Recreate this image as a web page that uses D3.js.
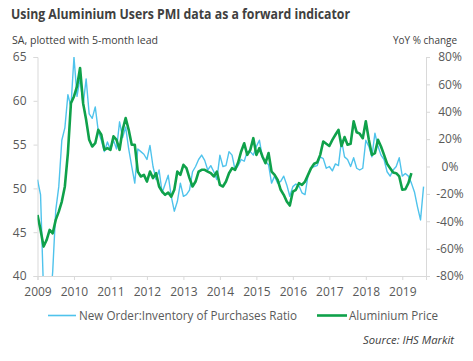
<!DOCTYPE html>
<html>
<head>
<meta charset="utf-8">
<script src="https://cdn.jsdelivr.net/npm/d3@7"></script>
<style>
  body { margin: 0; background: #fff; }
  svg { display: block; font-family: "Open Sans", "Liberation Sans", sans-serif; }
</style>
</head>
<body>
<svg id="chart" width="473" height="361"></svg>
<script>
// monthly, starting Jan 2009 (PMI plotted with 5-month lead)
var pmiRatio = [
  51.0, 49.3, 38.0, 35.0, 36.0, 40.5, 47.5, 50.2, 55.5, 56.9, 60.7, 59.3,
  65.0, 60.5, 62.6, 59.5, 62.5, 58.5, 58.0, 59.3, 56.5, 55.5, 54.2, 55.3,
  54.4, 55.5, 54.5, 57.6, 55.8, 57.0, 54.5, 52.5, 50.6, 54.5, 54.2, 53.9,
  53.3, 54.9, 52.5, 51.0, 52.1, 49.5, 50.5, 51.5, 49.1, 47.4, 48.5, 50.6,
  49.1, 49.3, 49.8, 51.9, 52.5, 53.3, 53.8, 53.2, 52.1, 52.6, 51.9, 51.0,
  53.8, 52.5, 52.6, 54.2, 53.8, 52.1, 52.6, 53.3, 53.1, 54.2, 54.2, 53.8,
  54.8, 55.5, 53.5, 53.1, 52.7, 50.6, 51.4, 50.6, 50.8, 51.4, 50.4, 49.1,
  50.2, 50.5, 50.3, 49.5, 49.3, 51.5, 52.3, 52.5, 52.6, 53.6, 53.4, 52.3,
  52.5, 52.0, 52.8, 52.6, 55.5, 53.6, 53.3, 52.5, 53.5, 52.3, 52.1, 52.3,
  55.5, 54.8, 53.6, 56.3, 54.8, 53.8, 53.3, 51.9, 51.4, 52.1, 52.5, 53.5,
  51.4, 51.7, 51.4, 50.6, 49.6, 47.9, 46.4, 50.2
];

// monthly YoY % change, starting Jan 2009
var aluPrice = [
  -35.4, -46.3, -58.5, -53.7, -46.3, -48.8, -39.0, -33.0, -25.6, -14.6, 9.8, 46.3,
  51.2, 58.5, 72.0, 46.3, 34.1, 19.5, 14.6, 17.0, 26.8, 23.2, 12.2, 13.4,
  12.2, 22.0, 19.5, 12.2, 26.8, 35.4, 26.8, 15.9, 15.9, -3.7, -7.3, -6.1,
  -11.0, -3.7, -8.5, -4.9, -14.6, -18.3, -20.7, -19.0, -22.0, -17.0, -3.7, -6.1,
  1.2, -1.2, -8.5, -14.6, -11.0, -3.7, -2.4, -2.4, -3.7, -4.9, -7.3, -3.7,
  -13.4, -14.6, -11.0, -4.9, -1.2, -2.4, 2.9, 11.0, 17.0, 8.5, 12.2, 20.7,
  8.5, 13.4, 7.3, 2.4, 9.8, -3.7, -6.1, -9.8, -17.0, -20.7, -25.6, -28.5,
  -18.3, -17.0, -12.2, -13.4, -11.0, -6.1, -1.2, 2.0, 3.0, 8.5, 18.3, 16.6,
  15.0, 19.5, 23.2, 26.8, 15.0, 21.5, 15.9, 16.6, 33.0, 25.0, 24.0, 20.7,
  33.0, 19.5, 8.5, 9.8, 19.5, 14.6, 8.5, 2.0, -1.2, -4.4, -4.9, -7.3,
  -17.0, -16.6, -12.2, -4.9
];

var startYear = 2009;
var yearTicks = [2009, 2010, 2011, 2012, 2013, 2014, 2015, 2016, 2017, 2018, 2019];
var leftTicks = [40, 45, 50, 55, 60, 65];
var rightTicks = [-80, -60, -40, -20, 0, 20, 40, 60, 80];

var svg = d3.select("#chart");
var L = 37.5, R = 426, T = 57, B = 276;

var x = d3.scaleLinear().domain([2009, 2019.65]).range([L, R]);
var yL = d3.scaleLinear().domain([40, 65]).range([B, T]);
var yR = d3.scaleLinear().domain([-80, 80]).range([B, T]);

var grey = "#595959", axisCol = "#d9d9d9";

// titles
svg.append("text").attr("x", 11).attr("y", 19)
    .attr("font-size", 14.5).attr("font-weight", "bold").attr("fill", "#404040")
    .attr("textLength", 339).attr("lengthAdjust", "spacingAndGlyphs")
    .text("Using Aluminium Users PMI data as a forward indicator");
svg.append("text").attr("x", 12).attr("y", 44)
    .attr("font-size", 11).attr("fill", "#404040")
    .attr("textLength", 146).attr("lengthAdjust", "spacingAndGlyphs")
    .text("SA, plotted with 5-month lead");
svg.append("text").attr("x", 457).attr("y", 44).attr("text-anchor", "end")
    .attr("font-size", 11).attr("fill", "#404040")
    .attr("textLength", 64).attr("lengthAdjust", "spacingAndGlyphs")
    .text("YoY % change");

// axes
var ax = svg.append("g").attr("transform", "translate(0," + B + ")")
    .call(d3.axisBottom(x).tickValues(yearTicks).tickFormat(d3.format("d")).tickSizeOuter(0).tickSize(4));
var al = svg.append("g").attr("transform", "translate(" + L + ",0)")
    .call(d3.axisLeft(yL).tickValues(leftTicks).tickSizeOuter(0).tickSize(4).tickPadding(7));
var ar = svg.append("g").attr("transform", "translate(" + R + ",0)")
    .call(d3.axisRight(yR).tickValues(rightTicks).tickFormat(function(d){ return d + "%"; })
      .tickSizeOuter(0).tickSize(4).tickPadding(6));

[ax, al, ar].forEach(function(g) {
  g.select(".domain").attr("stroke", axisCol);
  g.selectAll(".tick line").attr("stroke", axisCol);
  g.selectAll(".tick text").attr("fill", grey).attr("font-size", 12)
    .attr("font-family", "Open Sans, sans-serif");
});
ax.selectAll(".tick text").attr("dy", "1.05em");
ar.selectAll(".tick text").attr("text-anchor", "middle").attr("x", 24);

// clip to plot area
svg.append("clipPath").attr("id", "clip").append("rect")
    .attr("x", L).attr("y", T).attr("width", R - L).attr("height", B - T);

var blueLine = d3.line()
    .x(function(d, i){ return x(startYear + i / 12); })
    .y(function(d){ return yL(d); });
var greenLine = d3.line()
    .x(function(d, i){ return x(startYear + i / 12); })
    .y(function(d){ return yR(d); });

svg.append("path").datum(pmiRatio).attr("clip-path", "url(#clip)")
    .attr("d", blueLine).attr("fill", "none")
    .attr("stroke", "#4fc3ec").attr("stroke-width", 1.4).attr("stroke-linejoin", "round");
svg.append("path").datum(aluPrice).attr("clip-path", "url(#clip)")
    .attr("d", greenLine).attr("fill", "none")
    .attr("stroke", "#0fa14a").attr("stroke-width", 2.6).attr("stroke-linejoin", "round");

// legend
var lg = svg.append("g").attr("font-size", 12).attr("fill", grey);
lg.append("line").attr("x1", 48).attr("x2", 76).attr("y1", 315.5).attr("y2", 315.5)
    .attr("stroke", "#4fc3ec").attr("stroke-width", 1.6);
lg.append("text").attr("x", 79).attr("y", 320).attr("fill", grey)
    .attr("textLength", 218).attr("lengthAdjust", "spacingAndGlyphs")
    .text("New Order:Inventory of Purchases Ratio");
lg.append("line").attr("x1", 317).attr("x2", 347).attr("y1", 315.5).attr("y2", 315.5)
    .attr("stroke", "#0fa14a").attr("stroke-width", 2.6);
lg.append("text").attr("x", 349).attr("y", 320).attr("fill", grey)
    .attr("textLength", 89).attr("lengthAdjust", "spacingAndGlyphs")
    .text("Aluminium Price");

svg.append("text").attr("x", 454).attr("y", 344).attr("text-anchor", "end")
    .attr("font-size", 11).attr("font-style", "italic").attr("fill", "#404040")
    .attr("textLength", 91).attr("lengthAdjust", "spacingAndGlyphs")
    .text("Source: IHS Markit");
</script>
</body>
</html>
